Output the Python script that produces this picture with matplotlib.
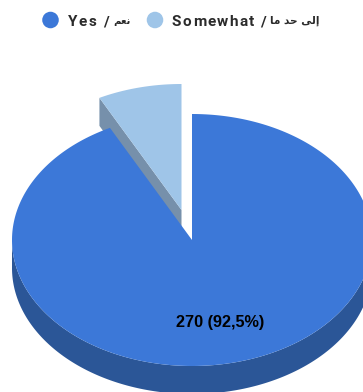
import numpy as np
import matplotlib
matplotlib.use('Agg')
import matplotlib.pyplot as plt
from matplotlib.textpath import text_to_path
from matplotlib.font_manager import FontProperties

labels_en = ['Yes', 'Somewhat']
# Arabic glyphs in presentation forms, visual order (matplotlib does no shaping)
labels_ar = ['\uFEE2\uFECC\uFEE7', '\uFE8E\uFEE3 \uFEAA\uFEA3 \uFEF0\uFEDF\uFE87']
values = [270, 22]
colors = ['#3c78d8', '#9fc5e8']
side_colors = ['#2b5697', '#7690ab']

cx, cy = 192, 240
rx, ry = 180, 126
depth = 28
offset = (-10.5, -30)
legend_color = '#2b2b2b'


def wedge(start, end, dx=0, dy=0):
    # angles in degrees clockwise from 12 o'clock
    t = np.radians(np.linspace(start, end, 300))
    x = cx + dx + rx * np.sin(t)
    y = cy + dy - ry * np.cos(t)
    return np.r_[cx + dx, x], np.r_[cy + dy, y]


def spaced_text(ax, x, y, s, size, spacing):
    # no letter spacing in matplotlib, so place the characters one by one
    fp = FontProperties(family='Roboto', weight='bold', size=size)
    for i, ch in enumerate(s):
        w = text_to_path.get_text_width_height_descent(s[:i], fp, False)[0] if i else 0
        ax.text(x + w * 100 / 72 + i * spacing, y, ch, fontproperties=fp,
                color=legend_color, ha='left', va='center_baseline')


fig = plt.figure(figsize=(3.63, 3.92), dpi=100)
ax = fig.add_axes([0, 0, 1, 1])
ax.set_xlim(0, 363)
ax.set_ylim(392, 0)
ax.axis('off')

sweep = 360 * values[0] / sum(values)

# pulled out slice, wall first
sx, sy = wedge(sweep, 360, *offset)
ax.fill([sx[0], sx[1], sx[1], sx[0]],
        [sy[0], sy[1], sy[1] + depth, sy[0] + depth], color=side_colors[1], lw=0)
ax.fill(sx, sy, color=colors[1], lw=0)

# main slice, rim then top
t = np.radians(np.linspace(90, 270, 300))
rim_x = cx + rx * np.sin(t)
rim_y = cy - ry * np.cos(t)
ax.fill(np.r_[rim_x, rim_x[::-1]], np.r_[rim_y, rim_y[::-1] + depth],
        color=side_colors[0], lw=0)
mx, my = wedge(0, sweep)
ax.fill(mx, my, color=colors[0], lw=0)

pct = f'{100 * values[0] / sum(values):.1f}'.replace('.', ',')
ax.text(220, 322, f'{values[0]} ({pct}%)', family='Liberation Sans', weight='bold',
        fontsize=11.7, color='black', ha='center', va='center')

# legend
ax.scatter([50.5, 155], [20, 20], s=142, c=colors, lw=0, clip_on=False)
spaced_text(ax, 67.5, 20.5, labels_en[0], 11, 1.5)
spaced_text(ax, 172, 20.5, labels_en[1], 11, 1.3)
for x, s in [(103, '/'), (260, '/')]:
    ax.text(x, 20.5, s, family='Roboto', weight='bold', fontsize=11,
            color=legend_color, ha='left', va='center_baseline')
ax.text(113, 20.5, labels_ar[0], family='DejaVu Sans', weight='bold', fontsize=7.3,
        color=legend_color, ha='left', va='center')
ax.text(270, 20.5, labels_ar[1], family='DejaVu Sans', weight='bold', fontsize=7.6,
        color=legend_color, ha='left', va='center')

fig.savefig('out.png', dpi=100)
